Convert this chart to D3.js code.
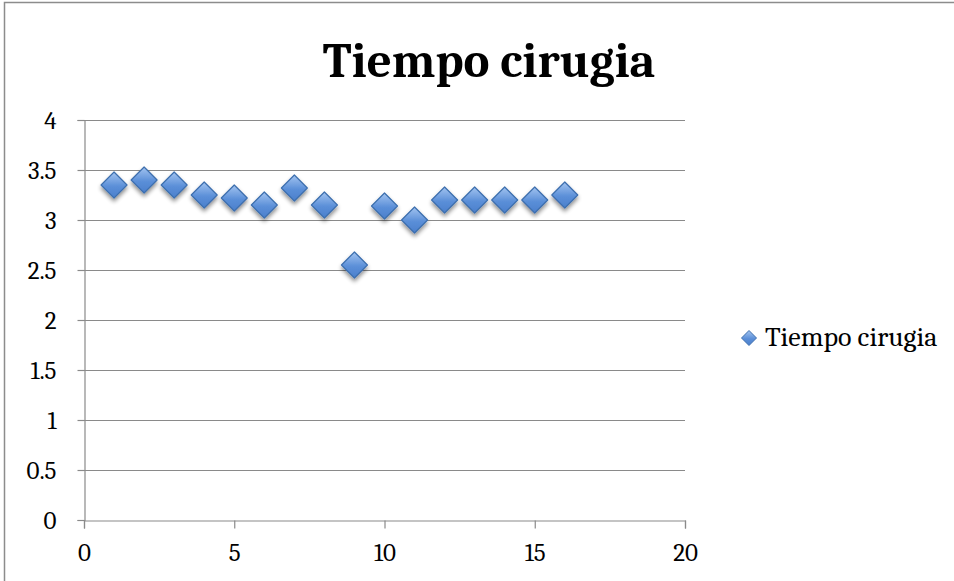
<!DOCTYPE html>
<html>
<head>
<meta charset="utf-8">
<script src="https://cdn.jsdelivr.net/npm/d3@7"></script>
<style>
  html, body { margin: 0; padding: 0; background: #fff; }
  svg { display: block; }
</style>
</head>
<body>
<svg id="chart" width="954" height="581"></svg>
<script>
// Surgery time per case
const caseNumbers = [1, 2, 3, 4, 5, 6, 7, 8, 9, 10, 11, 12, 13, 14, 15, 16];
const surgeryTimes = [3.35, 3.4, 3.35, 3.25, 3.22, 3.15, 3.32, 3.15, 2.55, 3.14, 3.0, 3.2, 3.2, 3.2, 3.2, 3.25];
const xTicks = [0, 5, 10, 15, 20];
const yTicks = [0, 0.5, 1, 1.5, 2, 2.5, 3, 3.5, 4];
const seriesName = "Tiempo cirugia";

const svg = d3.select("#chart");
const serif = "Cambria, Caladea, 'Liberation Serif', 'DejaVu Serif', serif";

const plot = { left: 84, right: 685, top: 120, bottom: 520 };
const x = d3.scaleLinear().domain([0, 20]).range([plot.left, plot.right]);
const y = d3.scaleLinear().domain([0, 4]).range([plot.bottom, plot.top]);

// outer frame (left and top edges)
svg.append("path")
  .attr("d", "M4.5,581 V2.5 H954")
  .attr("fill", "none").attr("stroke", "#8c8c8c").attr("stroke-width", 1.5);

// defs: marker gradient and shadow
const defs = svg.append("defs");
const grad = defs.append("linearGradient").attr("id", "mk")
  .attr("x1", 0).attr("y1", 0).attr("x2", 0).attr("y2", 1);
grad.append("stop").attr("offset", "0%").attr("stop-color", "#a3c4f0");
grad.append("stop").attr("offset", "55%").attr("stop-color", "#5b8fd8");
grad.append("stop").attr("offset", "100%").attr("stop-color", "#4a7fcc");
const sh = defs.append("filter").attr("id", "shadow")
  .attr("x", "-50%").attr("y", "-50%").attr("width", "200%").attr("height", "200%");
sh.append("feGaussianBlur").attr("in", "SourceAlpha").attr("stdDeviation", 2.2).attr("result", "b");
sh.append("feOffset").attr("in", "b").attr("dx", 0).attr("dy", 3).attr("result", "o");
sh.append("feComponentTransfer").attr("in", "o").attr("result", "o2")
  .append("feFuncA").attr("type", "linear").attr("slope", 0.45);
const m = sh.append("feMerge");
m.append("feMergeNode").attr("in", "o2");
m.append("feMergeNode").attr("in", "SourceGraphic");

// horizontal gridlines
svg.append("g").selectAll("line").data(yTicks.filter(d => d > 0)).join("line")
  .attr("x1", plot.left).attr("x2", plot.right)
  .attr("y1", d => Math.round(y(d)) + 0.5).attr("y2", d => Math.round(y(d)) + 0.5)
  .attr("stroke", "#8a8a8a").attr("stroke-width", 1.2);

// y axis
const yAxis = svg.append("g").attr("transform", `translate(${plot.left + 0.5},0)`)
  .call(d3.axisLeft(y).tickValues(yTicks).tickSize(7).tickPadding(21).tickFormat(d3.format("")));
// x axis
const xAxis = svg.append("g").attr("transform", `translate(0,${plot.bottom + 0.5})`)
  .call(d3.axisBottom(x).tickValues(xTicks).tickSize(8).tickPadding(15).tickFormat(d3.format("")));

[yAxis, xAxis].forEach(a => {
  a.select(".domain").attr("stroke", "#8a8a8a").attr("stroke-width", 1.2);
  a.selectAll(".tick line").attr("stroke", "#8a8a8a").attr("stroke-width", 1.2);
  a.selectAll(".tick text").attr("fill", "#000").attr("font-family", serif).attr("font-size", 25);
});

// diamond markers
const diamond = (cx, cy, r) => `M${cx},${cy - r} L${cx + r},${cy} L${cx},${cy + r} L${cx - r},${cy} Z`;
const pts = caseNumbers.map((c, i) => ({ c, v: surgeryTimes[i] }));
svg.append("g").attr("filter", "url(#shadow)")
  .selectAll("path").data(pts).join("path")
  .attr("d", d => diamond(x(d.c), y(d.v), 13))
  .attr("fill", "url(#mk)")
  .attr("stroke", "#3d6fae").attr("stroke-width", 1.2)
  .attr("stroke-linejoin", "round");

// title
svg.append("text")
  .attr("x", 489).attr("y", 77)
  .attr("text-anchor", "middle")
  .attr("font-family", serif).attr("font-weight", "bold").attr("font-size", 49)
  .attr("fill", "#000")
  .text(seriesName);

// legend
svg.append("path").attr("d", diamond(749, 338, 7.5))
  .attr("fill", "url(#mk)").attr("stroke", "#3d6fae").attr("stroke-width", 1);
svg.append("text")
  .attr("x", 765).attr("y", 346)
  .attr("font-family", serif).attr("font-size", 28).attr("fill", "#000")
  .text(seriesName);
</script>
</body>
</html>
